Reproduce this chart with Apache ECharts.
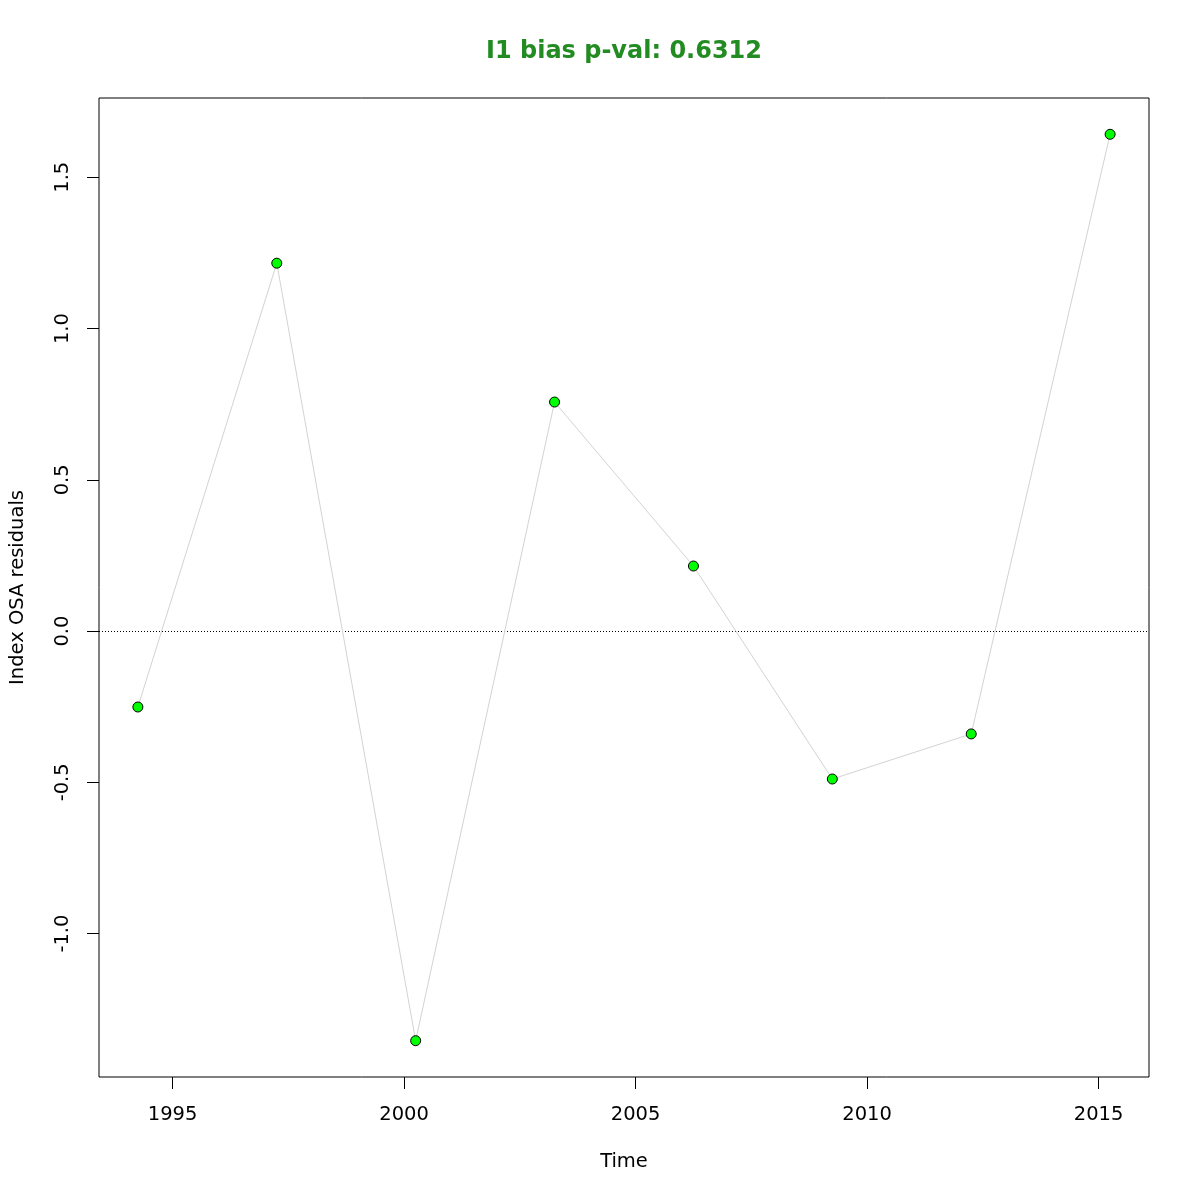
<!DOCTYPE html>
<html>
<head>
<meta charset="utf-8">
<script src="https://cdn.jsdelivr.net/npm/echarts@6/dist/echarts.min.js"></script>
<style>html,body{margin:0;padding:0;background:#fff;}#chart{width:1200px;height:1200px;}</style>
</head>
<body>
<div id="chart"></div>
<script>
const years = [1994.25, 1997.25, 2000.25, 2003.25, 2006.25, 2009.25, 2012.25, 2015.25];
const residuals = [-0.251, 1.216, -1.354, 0.757, 0.215, -0.489, -0.340, 1.642];
const xTicks = [1995, 2000, 2005, 2010, 2015];
const yTicks = [-1.0, -0.5, 0.0, 0.5, 1.0, 1.5];
const titleText = 'I1 bias p-val: 0.6312';

const FONT = 'DejaVu Sans';
const chart = echarts.init(document.getElementById('chart'), null, {renderer: 'canvas'});
chart.setOption({
  animation: false,
  backgroundColor: '#fff',
  title: {
    text: titleText,
    left: 619,
    top: 35,
    textAlign: 'center',
    textStyle: {fontFamily: FONT, fontWeight: 'bold', fontSize: 24, color: '#228B22'}
  },
  grid: {
    left: 98, right: 51, top: 98, bottom: 123,
    show: true, borderColor: '#000', borderWidth: 1, backgroundColor: 'transparent'
  },
  xAxis: {
    type: 'value',
    min: 1993.41, max: 2016.09,
    name: 'Time',
    nameLocation: 'middle',
    nameGap: 75,
    nameTextStyle: {fontFamily: FONT, fontSize: 19.5, color: '#000'},
    axisLine: {show: false, onZero: false},
    splitLine: {show: false},
    axisTick: {show: true, length: 12, inside: false, customValues: xTicks, lineStyle: {color: '#000', width: 1}},
    axisLabel: {customValues: xTicks, margin: 28, fontFamily: FONT, fontSize: 19.5, color: '#000',
      formatter: v => String(v)}
  },
  yAxis: {
    type: 'value',
    min: -1.474, max: 1.762,
    name: 'Index OSA residuals',
    nameLocation: 'middle',
    nameRotate: 90,
    nameGap: 71,
    nameTextStyle: {fontFamily: FONT, fontSize: 19.5, color: '#000'},
    axisLine: {show: false, onZero: false},
    splitLine: {show: false},
    axisTick: {show: true, length: 12, inside: false, customValues: yTicks, lineStyle: {color: '#000', width: 1}},
    axisLabel: {customValues: yTicks, rotate: 90, margin: 26, fontFamily: FONT, fontSize: 19.5, color: '#000',
      formatter: v => Number(v).toFixed(1)}
  },
  series: [{
    type: 'line',
    data: years.map((y, i) => [y, residuals[i]]),
    symbol: 'circle',
    symbolSize: 10,
    lineStyle: {color: '#d3d3d3', width: 1},
    itemStyle: {color: '#00ff00', borderColor: '#000', borderWidth: 1},
    z: 3,
    markLine: {
      silent: true,
      symbol: 'none',
      label: {show: false},
      lineStyle: {color: '#000', type: [1, 2], width: 1},
      data: [{yAxis: 0}],
      z: 1
    }
  }]
});
</script>
</body>
</html>
